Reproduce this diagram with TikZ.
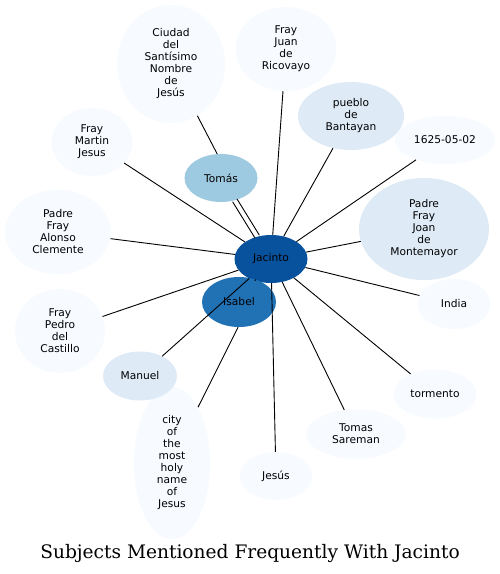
\documentclass[tikz,border=0pt]{standalone}
\usepackage{fontspec}
\usetikzlibrary{shapes.geometric}
\newfontfamily\nodefont{DejaVu Sans}
\newfontfamily\titlefont{DejaVu Serif}
\definecolor{cA}{HTML}{08519C}
\definecolor{cB}{HTML}{2171B5}
\definecolor{cC}{HTML}{9ECAE1}
\definecolor{cD}{HTML}{DEEBF7}
\definecolor{cE}{HTML}{F7FBFF}
\tikzset{
  ent/.style={ellipse, inner sep=0pt, draw=none, align=center,
    font=\nodefont\fontsize{10.67}{12}\selectfont},
  conn/.style={draw=black, line width=0.9pt},
}
\newcommand{\ent}[6]{\node[ent, fill=#4, minimum width=#5pt, minimum height=#6pt] (#1) at (#2) {#3};}
\begin{document}
\begin{tikzpicture}[x=1pt,y=-1pt]
\useasboundingbox[fill=white] (0,0) rectangle (500,574);
\ent{jac}{271,259}{Jacinto}{cA}{73}{48}
\ent{isa}{239,302}{Isabel}{cB}{74}{50}
\ent{tom}{221,178}{Tomás}{cC}{73}{48}
\ent{ciu}{171,64}{Ciudad\\del\\Santísimo\\Nombre\\de\\Jesús}{cE}{108}{118}
\ent{fjr}{286,49}{Fray\\Juan\\de\\Ricovayo}{cE}{101}{84}
\ent{pue}{351,116}{pueblo\\de\\Bantayan}{cD}{106}{68}
\ent{dat}{445,140}{1625-05-02}{cE}{100}{48}
\ent{mon}{424,229}{Padre\\Fray\\Joan\\de\\Montemayor}{cD}{130}{102}
\ent{ind}{454,304}{India}{cE}{73}{50}
\ent{tor}{435,394}{tormento}{cE}{83}{49}
\ent{sar}{356,434}{Tomas\\Sareman}{cE}{100}{49}
\ent{jes}{276,476}{Jesús}{cE}{73}{48}
\ent{cit}{172,463}{city\\of\\the\\most\\holy\\name\\of\\Jesus}{cE}{76}{152}
\ent{man}{140,376}{Manuel}{cD}{74}{49}
\ent{fpc}{60,331}{Fray\\Pedro\\del\\Castillo}{cE}{90}{84}
\ent{pac}{58,232}{Padre\\Fray\\Alonso\\Clemente}{cE}{106}{84}
\ent{fmj}{92,142}{Fray\\Martin\\Jesus}{cE}{81}{68}
\node[font=\titlefont\fontsize{18.6}{22}\selectfont] (title) at (250,553) {Subjects Mentioned Frequently With Jacinto};
\draw[conn] (ciu.-63) -- (tom.99);
\draw[conn] (cit.65) -- (isa.-92);
\draw[conn, transform canvas={shift={(2.2,-1.4)}}] (tom) -- (jac);
\draw[conn, transform canvas={shift={(-2.2,1.4)}}] (tom) -- (jac);
\foreach \t in {fjr,pue,dat,mon,ind,tor,sar,jes,man,fpc,pac,fmj,isa}
  \draw[conn] (jac) -- (\t);
\end{tikzpicture}
\end{document}
